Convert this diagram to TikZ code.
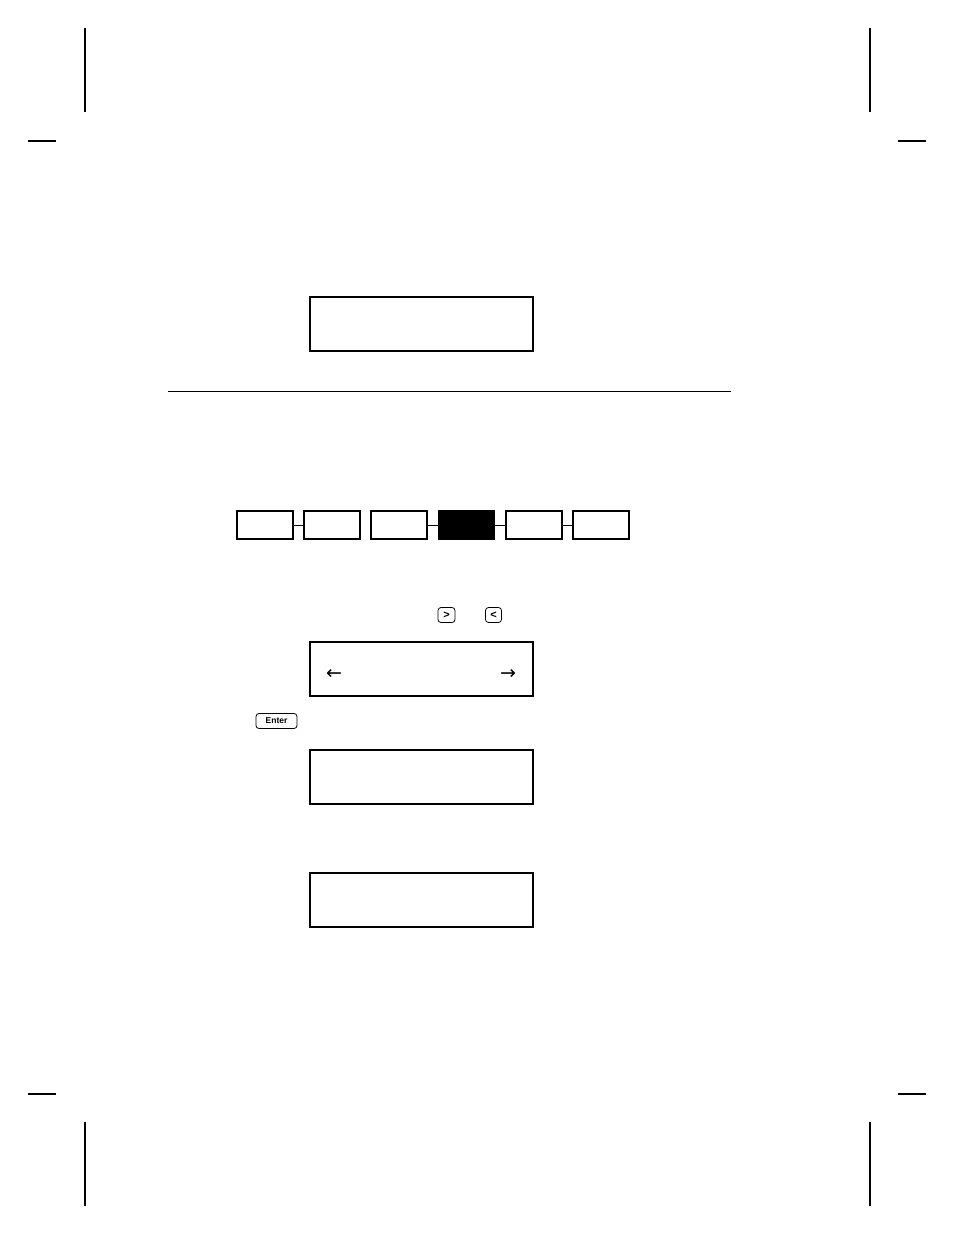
\documentclass[tikz,border=0pt]{standalone}
\usepackage{fontspec}
\setmainfont{Liberation Sans}
\newfontfamily\arrowfont{DejaVu Sans}
\begin{document}
\begin{tikzpicture}[x=1pt,y=-1pt,
  crop/.style={line width=2pt},
  lcd/.style={draw, line width=2pt, minimum width=223pt, minimum height=54pt, inner sep=0pt},
  menubox/.style={draw, line width=1.1pt, minimum width=56pt, minimum height=28pt, inner sep=0pt},
  keybox/.style={draw, line width=0.8pt, rounded corners=3pt, minimum height=15pt, inner sep=0pt, font=\bfseries\fontsize{8.5}{9}\selectfont},
  arr/.style={font=\arrowfont\fontsize{19}{19}\selectfont, inner sep=0pt}
]
\useasboundingbox (0,0) rectangle (954,1235);
% crop marks
\draw[crop] (85,28) -- (85,112);
\draw[crop] (28,141) -- (56,141);
\draw[crop] (870,28) -- (870,112);
\draw[crop] (898,141) -- (926,141);
\draw[crop] (28,1094) -- (56,1094);
\draw[crop] (85,1122) -- (85,1206);
\draw[crop] (898,1094) -- (926,1094);
\draw[crop] (870,1122) -- (870,1206);
% top display
\node[lcd] (d1) at (421.5,324) {};
% rule
\draw[line width=0.8pt] (168,391) -- (731,391);
% menu
\node[menubox] (m1) at (265,525) {};
\node[menubox] (m2) at (332,525) {};
\node[menubox] (m3) at (399,525) {};
\node[menubox, fill=black] (m4) at (466.5,525) {};
\node[menubox] (m5) at (534,525) {};
\node[menubox] (m6) at (601,525) {};
\draw[line width=0.8pt] (m1) -- (m2);
\draw[line width=0.8pt] (m3) -- (m4);
\draw[line width=0.8pt] (m4) -- (m5);
\draw[line width=0.8pt] (m5) -- (m6);
% keys
\node[keybox, minimum width=17pt, font=\bfseries\fontsize{11}{11}\selectfont] (kr) at (446.5,615) {>};
\node[keybox, minimum width=16pt, font=\bfseries\fontsize{11}{11}\selectfont] (kl) at (493.5,615) {<};
\node[keybox, minimum width=41pt] (ke) at (276.5,721) {Enter};
% displays
\node[lcd] (d2) at (421.5,669) {};
\node[arr] (al) at (334,674) {←};
\node[arr] (ar) at (508,674) {→};
\node[lcd] (d3) at (421.5,776.5) {};
\node[lcd] (d4) at (421.5,900) {};
\end{tikzpicture}
\end{document}
